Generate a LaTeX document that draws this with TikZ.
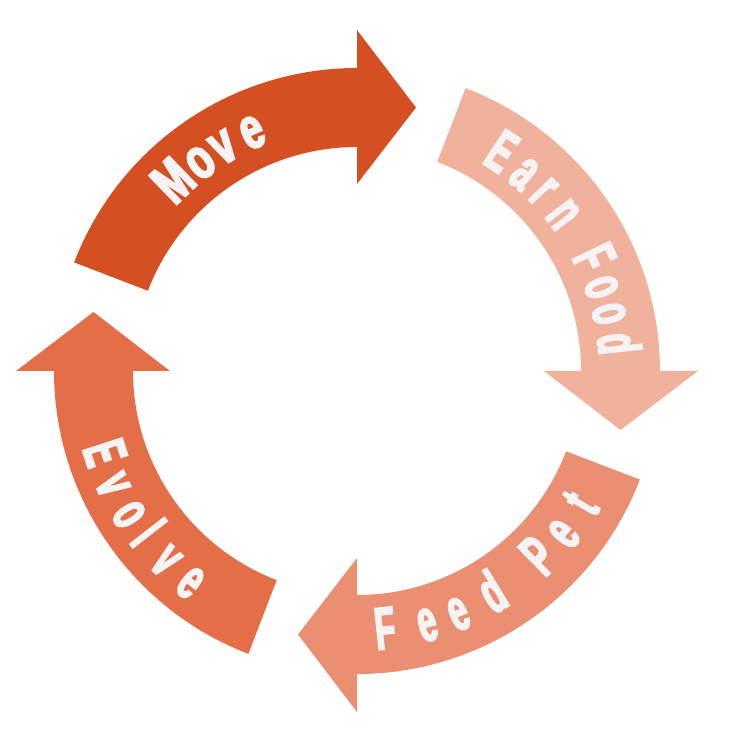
\documentclass[tikz,border=0pt]{standalone}
\usepackage{fontspec}
\usetikzlibrary{calc}
\newfontfamily\condfont[FakeStretch=0.55,FakeBold=3]{Liberation Sans}
\newfontfamily\movefont[FakeStretch=0.68,FakeBold=3.5]{Liberation Sans}
\definecolor{moveC}{RGB}{212,79,34}
\definecolor{earnC}{RGB}{240,178,157}
\definecolor{feedC}{RGB}{234,143,114}
\definecolor{evolveC}{RGB}{228,110,72}
\definecolor{txtC}{RGB}{246,243,245}
\newcommand\cyclearrow[2]{%
  \fill[#2] (#1+69:303) arc[start angle=#1+69, end angle=#1, radius=303]
    -- (#1:341) -- ($(#1:263.5)+(#1-90:59)$) -- (#1:187) -- (#1:224)
    arc[start angle=#1, end angle=#1+69, radius=224] -- cycle;}
\begin{document}
\begin{tikzpicture}[x=1pt,y=1pt,
  letter/.style={text=txtC, inner sep=0pt, anchor=center, text depth=0pt},
  condletter/.style={letter, font=\condfont\bfseries\fontsize{60}{60}\selectfont, text height=43pt},
  moveletter/.style={letter, font=\movefont\bfseries\fontsize{58}{58}\selectfont, text height=42pt}]
\useasboundingbox (-357,-378) rectangle (371,371);
\cyclearrow{90}{moveC}
\cyclearrow{0}{earnC}
\cyclearrow{270}{feedC}
\cyclearrow{180}{evolveC}
\foreach \ch/\ang [count=\i] in {M/134.0, o/126.9, v/120.8, e/113.7}
  \node[moveletter, rotate=\ang-90] (mv\i) at (\ang:266) {\ch};
\foreach \ch/\ang [count=\i] in {E/56.6, a/49.7, r/43.9, n/37.2, F/25.5, o/18.9, o/12.8, d/6.0}
  \node[condletter, rotate=\ang-90] (ef\i) at (\ang:264) {\ch};
\foreach \ch/\ang [count=\i] in {F/276.2, e/285.5, e/292.7, d/301.4, P/314.5, e/321.8, t/329.4}
  \node[condletter, rotate=\ang+90] (fp\i) at (\ang:258) {\ch};
\foreach \ch/\ang [count=\i] in {E/198, v/205, o/212.2, l/217.8, v/224.8, e/231.8}
  \node[condletter, rotate=\ang+90] (ev\i) at (\ang:264) {\ch};
\end{tikzpicture}
\end{document}
